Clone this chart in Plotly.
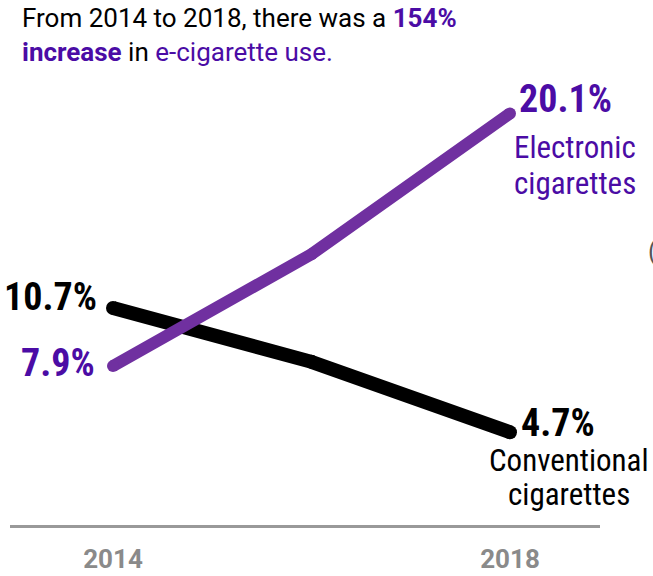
import plotly.graph_objects as go

years = [2014, 2016, 2018]
ecig = [7.9, 13.3, 20.1]
conv = [10.7, 8.1, 4.7]
tick_vals = [2014, 2018]
tick_text = ["2014", "2018"]

PURPLE_LINE = "#7030a0"
PURPLE_TEXT = "#4b0ca5"
GRAY = "#8a8a8a"
NARROW = "Liberation Sans Narrow, Roboto Condensed, Roboto, sans-serif"
ROBOTO = "Roboto, Liberation Sans, sans-serif"

fig = go.Figure()
fig.add_trace(go.Scatter(x=years, y=conv, mode="lines+markers",
                         line=dict(color="#000000", width=14),
                         marker=dict(color="#000000", size=14),
                         hoverinfo="skip", showlegend=False))
fig.add_trace(go.Scatter(x=years, y=ecig, mode="lines+markers",
                         line=dict(color=PURPLE_LINE, width=12),
                         marker=dict(color=PURPLE_LINE, size=12),
                         hoverinfo="skip", showlegend=False))

ann = []
big = dict(family=NARROW, size=38, weight="bold")
mid = dict(family=NARROW, size=31)


def add(x, y, text, xa, xs, ys, font, ya="middle", align="left"):
    ann.append(dict(x=x, y=y, text=text, xanchor=xa, yanchor=ya, xshift=xs, yshift=ys,
                    showarrow=False, align=align, font=font))


add(years[0], conv[0], f"{conv[0]}%", "right", -14, 11, dict(big, color="#000000"))
add(years[0], ecig[0], f"{ecig[0]}%", "right", -16, 3, dict(big, color=PURPLE_TEXT))
add(years[-1], ecig[-1], f"{ecig[-1]}%", "left", 7, 14, dict(big, color=PURPLE_TEXT))
add(years[-1], conv[-1], f"{conv[-1]}%", "left", 9, 9, dict(big, color="#000000"))
add(years[-1], ecig[-1], "Electronic", "left", 2, -34, dict(mid, color=PURPLE_TEXT))
add(years[-1], ecig[-1], "cigarettes", "left", 2, -70, dict(mid, color=PURPLE_TEXT))
add(years[-1], conv[-1], "Conventional", "center", 59, -28, dict(mid, color="#000000"))
add(years[-1], conv[-1], "cigarettes", "center", 59, -62, dict(mid, color="#000000"))

ann.append(dict(x=0, y=1, xref="paper", yref="paper", xanchor="left", yanchor="top",
                xshift=10, yshift=59, showarrow=False, align="left",
                text=("From 2014 to 2018, there was a <span style='color:%s'><b>154%%</b></span><br>"
                      "<span style='color:%s'><b>increase</b></span> in "
                      "<span style='color:%s'>e-cigarette use.</span>") % (PURPLE_TEXT, PURPLE_TEXT, PURPLE_TEXT),
                font=dict(family=ROBOTO, size=26, color="#000000")))
ann.append(dict(x=1, y=0.585, xref="paper", yref="paper", xanchor="left", yanchor="middle",
                xshift=46, yshift=2, showarrow=False, text="(",
                font=dict(family=NARROW, size=26, color="#555555")))

fig.update_layout(
    width=653, height=576,
    margin=dict(l=10, r=53, t=60, b=51, autoexpand=False),
    paper_bgcolor="white", plot_bgcolor="white",
    annotations=ann,
    xaxis=dict(range=[2012.962, 2018.907], showgrid=False, zeroline=False,
               showline=True, linecolor="#999999", linewidth=3,
               tickvals=tick_vals, ticktext=tick_text, ticks="",
               ticklabelstandoff=9, automargin=False,
               tickfont=dict(family=ROBOTO, size=26, color=GRAY, weight="bold")),
    yaxis=dict(range=[0.22, 22.68], visible=False, showgrid=False, zeroline=False,
               automargin=False),
)

fig.write_html("out.html")
